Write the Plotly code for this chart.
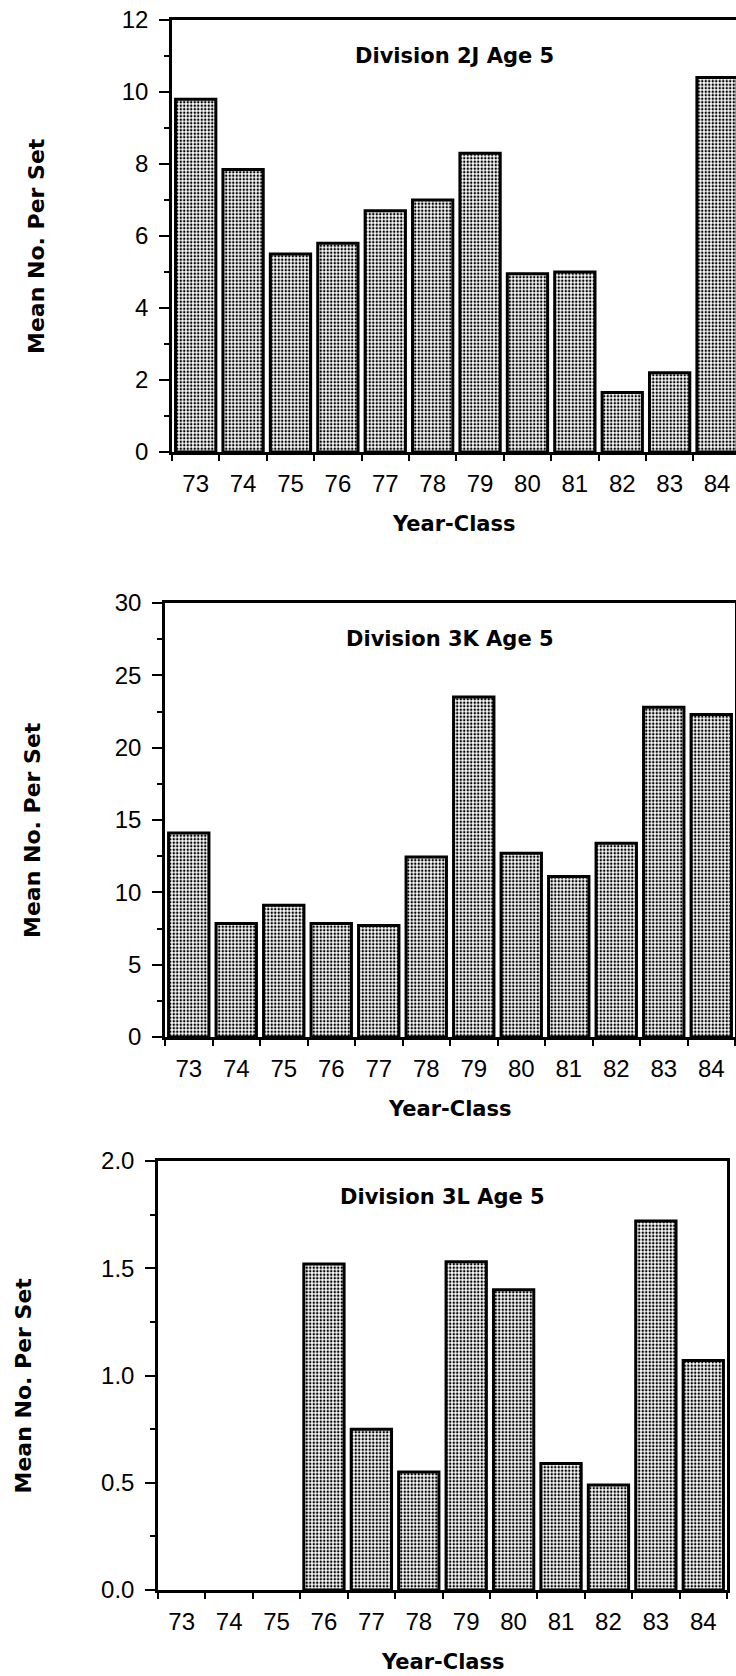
import plotly.graph_objects as go

W, H = 736, 1676

years = ["73", "74", "75", "76", "77", "78", "79", "80", "81", "82", "83", "84"]
div2j = [9.8, 7.85, 5.5, 5.8, 6.7, 7.0, 8.3, 4.95, 5.0, 1.65, 2.2, 10.4]
div3k = [14.1, 7.85, 9.1, 7.85, 7.7, 12.45, 23.5, 12.7, 11.1, 13.4, 22.8, 22.3]
div3l = [0, 0, 0, 1.52, 0.75, 0.55, 1.53, 1.40, 0.59, 0.49, 1.72, 1.07]
panel_titles = ["Division 2J Age 5", "Division 3K Age 5", "Division 3L Age 5"]
y_title = "Mean No. Per Set"
x_title = "Year-Class"

# pixel boxes of the three plot areas: (left, right, top, bottom)
boxes = [(172, 736, 20, 452), (165, 735, 603, 1037), (158, 727, 1161, 1590)]
yranges = [[0, 12], [0, 30], [0, 2]]
ydticks = [2, 5, 0.5]
yminor = [1, 2.5, 0.25]
yfmt = ["d", "d", ".1f"]
xranges = [[-0.5, 11.4], [-0.5, 11.5], [-0.5, 11.5]]
ytitle_x = [36, 32, 23]
series = [div2j, div3k, div3l]

tick_font = dict(family="Liberation Sans Narrow, Arial Narrow, Liberation Sans, sans-serif",
                 size=24, color="black")
bold_font = dict(family="DejaVu Sans, Verdana, sans-serif", size=21, color="black",
                 weight="bold")
ytitle_font = dict(family="DejaVu Sans, Verdana, sans-serif", size=22, color="black",
                   weight="bold")

fig = go.Figure()
annotations = []
for i, (vals, box) in enumerate(zip(series, boxes)):
    l, r, t, b = box
    xa = "x" if i == 0 else f"x{i+1}"
    ya = "y" if i == 0 else f"y{i+1}"
    fig.add_trace(go.Bar(
        x=years, y=vals, xaxis=xa, yaxis=ya, width=0.85,
        marker=dict(color="white",
                    line=dict(color="black", width=[3 if v > 0 else 0 for v in vals]),
                    pattern=dict(shape=".", fgcolor="black", bgcolor="white",
                                 size=3.5, solidity=0.4)),
        showlegend=False, hoverinfo="skip"))
    xkey = "xaxis" if i == 0 else f"xaxis{i+1}"
    ykey = "yaxis" if i == 0 else f"yaxis{i+1}"
    fig.update_layout(**{
        xkey: dict(domain=[l / W, r / W], anchor=ya, type="category",
                   range=xranges[i], tickson="boundaries", automargin=False,
                   ticks="outside", ticklen=6, tickwidth=2, tickcolor="black",
                   showline=True, linewidth=2.5, linecolor="black", mirror=True,
                   showgrid=False, zeroline=False, tickfont=tick_font,
                   ticklabelstandoff=8, fixedrange=True),
        ykey: dict(domain=[1 - b / H, 1 - t / H], anchor=xa, automargin=False,
                   range=yranges[i], dtick=ydticks[i], tick0=0,
                   tickformat=yfmt[i],
                   ticks="outside", ticklen=10, tickwidth=2, tickcolor="black",
                   minor=dict(dtick=yminor[i], ticks="outside", ticklen=5,
                              tickwidth=2, tickcolor="black", showgrid=False),
                   showline=True, linewidth=2.5, linecolor="black",
                   mirror=(i != 0),
                   showgrid=False, zeroline=False, tickfont=tick_font,
                   ticklabelstandoff=6, fixedrange=True),
    })
    cx = (l + r) / 2 / W
    annotations.append(dict(text=panel_titles[i], x=cx, y=1 - (t + 36) / H,
                            xref="paper", yref="paper", showarrow=False,
                            xanchor="center", yanchor="middle", font=bold_font))
    annotations.append(dict(text=x_title, x=cx, y=1 - (b + 72) / H,
                            xref="paper", yref="paper", showarrow=False,
                            xanchor="center", yanchor="middle", font=bold_font))
    annotations.append(dict(text=y_title, x=ytitle_x[i] / W, y=1 - ((t + b) / 2 + 10) / H,
                            xref="paper", yref="paper", showarrow=False,
                            textangle=-90, xanchor="center", yanchor="middle",
                            font=ytitle_font))

fig.update_layout(template="none", width=W, height=H,
                  margin=dict(l=0, r=0, t=0, b=0, pad=0),
                  paper_bgcolor="white", plot_bgcolor="white",
                  bargap=0.15, annotations=annotations)
fig.write_html("out.html", config={"displayModeBar": False},
               post_script="document.body.style.margin='0px';"
                           "document.body.style.overflow='hidden';")
